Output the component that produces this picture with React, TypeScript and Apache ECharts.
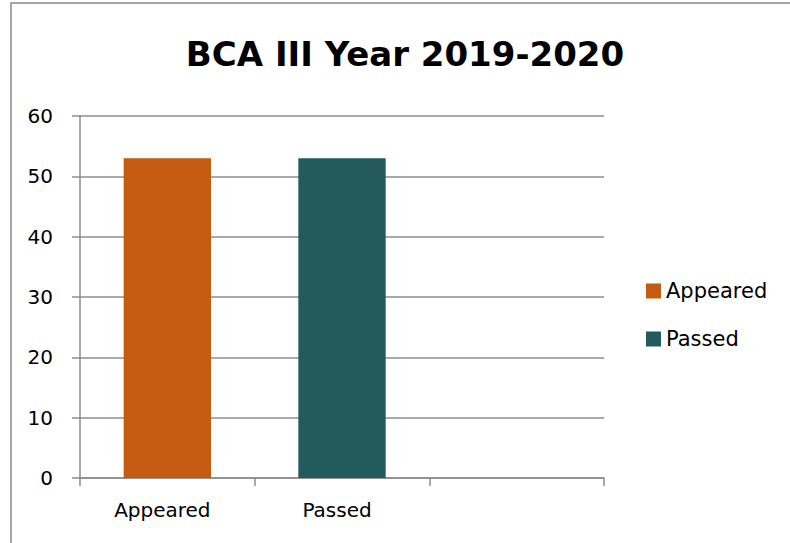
import React, { useEffect, useRef } from "react";
import * as echarts from "echarts";

const categories = ["Appeared", "Passed", ""];
const appearedValues = [53, "-", "-"];
const passedValues = ["-", 53, "-"];
const seriesNames = ["Appeared", "Passed"];
const titleText = "BCA III Year 2019-2020";

export default function App() {
  const ref = useRef<HTMLDivElement>(null);
  useEffect(() => {
    document.body.style.margin = "0";
    const chart = echarts.init(ref.current!, undefined, { renderer: "svg" });
    const font = "'DejaVu Sans', sans-serif";
    chart.setOption({
      animation: false,
      backgroundColor: "#ffffff",
      title: {
        text: titleText,
        left: 405,
        top: 37,
        textAlign: "center",
        padding: 0,
        textStyle: { fontFamily: font, fontSize: 34, fontWeight: "bold", color: "#000" },
      },
      graphic: [
        {
          type: "rect",
          shape: { x: 11, y: 3, width: 900, height: 700 },
          style: { fill: "none", stroke: "#8c8c8c", lineWidth: 1.5 },
          silent: true,
        },
      ],
      legend: {
        orient: "vertical",
        left: 646,
        top: 277,
        padding: 0,
        itemWidth: 15,
        itemHeight: 15,
        itemGap: 20,
        icon: "rect",
        data: seriesNames,
        textStyle: { fontFamily: font, fontSize: 21, color: "#000", lineHeight: 28 },
      },
      grid: { left: 80, right: 186, top: 116, bottom: 65 },
      xAxis: {
        type: "category",
        data: categories,
        axisLine: { lineStyle: { color: "#8c8c8c", width: 1.5 } },
        axisTick: { show: true, length: 8, lineStyle: { color: "#8c8c8c", width: 1.5 } },
        axisLabel: { fontFamily: font, fontSize: 20, color: "#000", margin: 22, padding: [0, 10, 0, 0] },
      },
      yAxis: {
        type: "value",
        min: 0,
        max: 60,
        interval: 10,
        axisLine: { show: true, lineStyle: { color: "#8c8c8c", width: 1.5 } },
        axisTick: { show: true, length: 8, lineStyle: { color: "#8c8c8c", width: 1.5 } },
        splitLine: { lineStyle: { color: "#8c8c8c", width: 1.5 } },
        axisLabel: { fontFamily: font, fontSize: 20, color: "#000", margin: 27 },
      },
      series: [
        {
          name: seriesNames[0],
          type: "bar",
          data: appearedValues,
          barWidth: "50%",
          barGap: "-100%",
          itemStyle: { color: "#C55A11" },
        },
        {
          name: seriesNames[1],
          type: "bar",
          data: passedValues,
          barWidth: "50%",
          barGap: "-100%",
          itemStyle: { color: "#235A5B" },
        },
      ],
    });
    return () => chart.dispose();
  }, []);
  return <div ref={ref} style={{ width: 790, height: 543, position: "absolute", left: 0, top: 0 }} />;
}
